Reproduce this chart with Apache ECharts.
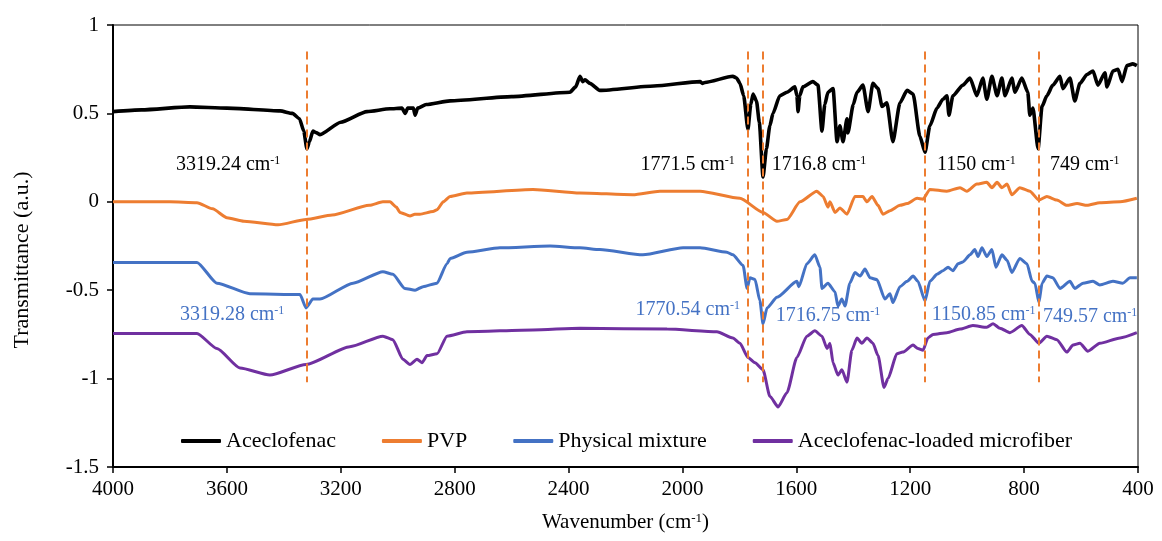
<!DOCTYPE html>
<html lang="en">
<head>
<meta charset="UTF-8">
<script src="https://cdn.jsdelivr.net/npm/echarts@6/dist/echarts.min.js"></script>
<title>FTIR</title>
<style>html,body{margin:0;padding:0;background:#fff;}</style>
</head>
<body>
<div id="chart" style="width:1162px;height:541px;"></div>
<script>
// series names
var names = ['Aceclofenac', 'PVP', 'Physical mixture', 'Aceclofenac-loaded microfiber'];

// [wavenumber, transmittance]
var aceclofenac = [[4000,0.51],[3900,0.52],[3730,0.537],[3600,0.53],[3413,0.514],[3370,0.50],[3345,0.47],[3330,0.40],[3319,0.30],[3310,0.34],[3298,0.40],[3285,0.39],[3273,0.38],[3200,0.45],[3108,0.51],[3027,0.526],[2985,0.53],[2974,0.50],[2965,0.53],[2945,0.53],[2939,0.49],[2930,0.53],[2900,0.55],[2816,0.571],[2600,0.595],[2395,0.62],[2375,0.65],[2360,0.71],[2350,0.68],[2342,0.69],[2325,0.67],[2290,0.63],[2100,0.655],[1938,0.68],[1930,0.67],[1921,0.675],[1823,0.71],[1810,0.70],[1798,0.67],[1785,0.60],[1770,0.41],[1760,0.55],[1752,0.61],[1740,0.57],[1730,0.45],[1717,0.14],[1705,0.30],[1693,0.43],[1682,0.50],[1658,0.60],[1633,0.62],[1605,0.65],[1598,0.60],[1594,0.51],[1588,0.60],[1577,0.65],[1542,0.68],[1524,0.66],[1510,0.40],[1500,0.55],[1489,0.62],[1471,0.64],[1457,0.34],[1447,0.43],[1436,0.34],[1422,0.47],[1419,0.39],[1400,0.55],[1387,0.62],[1366,0.66],[1348,0.51],[1331,0.67],[1313,0.64],[1299,0.54],[1282,0.56],[1261,0.34],[1236,0.56],[1211,0.63],[1190,0.61],[1166,0.37],[1148,0.28],[1131,0.43],[1106,0.53],[1085,0.58],[1071,0.60],[1064,0.49],[1050,0.60],[1015,0.66],[990,0.70],[966,0.60],[945,0.70],[931,0.58],[913,0.71],[895,0.60],[878,0.70],[867,0.60],[843,0.70],[832,0.62],[808,0.70],[787,0.62],[780,0.49],[769,0.53],[751,0.30],[737,0.54],[720,0.60],[699,0.66],[674,0.71],[664,0.64],[639,0.70],[622,0.57],[604,0.67],[579,0.72],[558,0.74],[541,0.66],[516,0.73],[509,0.65],[488,0.74],[470,0.75],[456,0.68],[439,0.77],[418,0.78],[404,0.77]];

var pvp = [[4000,0.0],[3800,0.0],[3705,-0.005],[3650,-0.04],[3600,-0.09],[3540,-0.11],[3420,-0.13],[3322,-0.10],[3230,-0.075],[3100,-0.02],[3052,0.0],[3027,0.0],[3005,-0.03],[2992,-0.06],[2957,-0.08],[2940,-0.07],[2922,-0.07],[2876,-0.055],[2862,-0.045],[2840,0.0],[2816,0.03],[2757,0.05],[2525,0.07],[2360,0.05],[2174,0.04],[2079,0.06],[1938,0.06],[1798,0.02],[1717,-0.06],[1668,-0.11],[1633,-0.10],[1587,0.0],[1528,0.06],[1506,0.03],[1489,-0.03],[1482,0.0],[1464,-0.06],[1447,-0.035],[1422,-0.07],[1394,0.03],[1366,0.03],[1352,0.0],[1334,0.03],[1313,-0.02],[1296,-0.07],[1271,-0.05],[1236,-0.02],[1211,-0.01],[1176,0.02],[1155,0.015],[1131,0.07],[1071,0.06],[1025,0.08],[1001,0.06],[966,0.10],[931,0.11],[913,0.08],[895,0.11],[878,0.08],[860,0.10],[843,0.04],[815,0.08],[780,0.06],[748,0.01],[720,0.03],[685,0.01],[650,-0.02],[614,-0.01],[579,-0.02],[534,-0.005],[463,0.0],[404,0.02]];

var mixture = [[4000,-0.343],[3705,-0.343],[3635,-0.46],[3519,-0.52],[3343,-0.525],[3322,-0.60],[3298,-0.55],[3273,-0.55],[3157,-0.46],[3052,-0.395],[3017,-0.41],[2975,-0.49],[2939,-0.50],[2911,-0.48],[2862,-0.46],[2827,-0.35],[2816,-0.32],[2757,-0.285],[2641,-0.26],[2465,-0.25],[2360,-0.26],[2290,-0.27],[2139,-0.30],[1998,-0.26],[1938,-0.26],[1844,-0.285],[1823,-0.30],[1787,-0.36],[1773,-0.49],[1763,-0.43],[1745,-0.44],[1728,-0.56],[1717,-0.69],[1703,-0.60],[1668,-0.54],[1598,-0.45],[1591,-0.48],[1563,-0.35],[1535,-0.30],[1517,-0.37],[1510,-0.49],[1489,-0.46],[1464,-0.51],[1454,-0.59],[1440,-0.55],[1429,-0.59],[1412,-0.46],[1394,-0.40],[1376,-0.42],[1359,-0.38],[1341,-0.43],[1317,-0.44],[1289,-0.55],[1271,-0.52],[1261,-0.57],[1236,-0.48],[1211,-0.45],[1190,-0.42],[1173,-0.45],[1148,-0.56],[1131,-0.45],[1106,-0.41],[1085,-0.39],[1067,-0.37],[1050,-0.39],[1032,-0.35],[1015,-0.34],[990,-0.30],[973,-0.27],[962,-0.31],[948,-0.26],[931,-0.31],[913,-0.27],[899,-0.37],[878,-0.30],[860,-0.33],[843,-0.40],[815,-0.32],[790,-0.35],[772,-0.45],[762,-0.46],[748,-0.57],[737,-0.46],[720,-0.42],[699,-0.43],[674,-0.49],[639,-0.45],[622,-0.49],[593,-0.46],[558,-0.45],[534,-0.47],[488,-0.45],[453,-0.46],[428,-0.43],[404,-0.43]];

var microfiber = [[4000,-0.745],[3705,-0.745],[3635,-0.83],[3554,-0.94],[3449,-0.98],[3322,-0.92],[3168,-0.82],[3052,-0.76],[3017,-0.78],[2982,-0.89],[2957,-0.92],[2932,-0.89],[2915,-0.91],[2897,-0.87],[2862,-0.86],[2827,-0.76],[2757,-0.735],[2525,-0.725],[2360,-0.715],[2054,-0.72],[1879,-0.735],[1823,-0.77],[1798,-0.80],[1770,-0.88],[1745,-0.91],[1717,-0.95],[1693,-1.10],[1664,-1.16],[1633,-1.08],[1598,-0.88],[1563,-0.76],[1535,-0.73],[1510,-0.76],[1492,-0.83],[1482,-0.80],[1471,-0.91],[1454,-0.98],[1440,-0.95],[1422,-1.02],[1405,-0.84],[1387,-0.77],[1370,-0.80],[1352,-0.77],[1331,-0.80],[1313,-0.87],[1292,-1.05],[1278,-1.0],[1247,-0.86],[1226,-0.85],[1190,-0.81],[1173,-0.83],[1155,-0.84],[1138,-0.77],[1120,-0.75],[1071,-0.74],[1025,-0.72],[980,-0.70],[931,-0.71],[909,-0.69],[885,-0.715],[850,-0.74],[808,-0.70],[780,-0.75],[748,-0.80],[720,-0.76],[685,-0.78],[650,-0.85],[628,-0.81],[604,-0.80],[576,-0.845],[534,-0.80],[463,-0.77],[404,-0.74]];

// marked peaks (dashed lines) and their labels
var peakLines = [3319.24, 1771.5, 1716.8, 1150, 749];
var aceLabels = ['3319.24', '1771.5', '1716.8', '1150', '749'];
var mixLabels = ['3319.28', '1770.54', '1716.75', '1150.85', '749.57'];

var colors = ['#000000', '#ED7D31', '#4472C4', '#7030A0'];
var serif = '"Liberation Serif", "Times New Roman", serif';

// where each label sits: [wavenumber, y, side of anchor]
var aceAnchor = [[3779,0.21,'right'],[1816,0.21,'left'],[1686,0.21,'right'],[1106,0.21,'right'],[709,0.21,'right']];
var mixAnchor = [[3765,-0.64,'right'],[1798,-0.61,'left'],[1672,-0.645,'right'],[1124,-0.64,'right'],[734,-0.65,'right']];

function labelPoints(texts, anchor, color) {
	return texts.map(function (t, i) {
		return {
			value: [anchor[i][0], anchor[i][1]],
			label: {
				show: true,
				position: anchor[i][2],
				distance: 0,
				formatter: '{n|' + t + ' cm}{s|-1}',
				rich: {
					n: {fontFamily: serif, fontSize: 20, color: color},
					s: {fontFamily: serif, fontSize: 12, color: color, verticalAlign: 'top'}
				}
			}
		};
	});
}

var chart = echarts.init(document.getElementById('chart'));

var lineData = [aceclofenac, pvp, mixture, microfiber];
var series = lineData.map(function (d, i) {
	return {
		name: names[i],
		type: 'line',
		data: d,
		showSymbol: false,
		smooth: 0.2,
		smoothMonotone: 'x',
		z: 4 - i,
		lineStyle: {color: colors[i], width: i === 0 ? 3.6 : 3},
		itemStyle: {color: colors[i]}
	};
});

// dashed peak markers
series[0].markLine = {
	silent: true,
	symbol: 'none',
	label: {show: false},
	lineStyle: {color: '#ED7D31', type: [8, 5], width: 2},
	data: peakLines.map(function (p) {
		return [{coord: [p, 0.85]}, {coord: [p, -1.02]}];
	})
};

series.push({
	type: 'scatter',
	symbolSize: 0,
	silent: true,
	z: 6,
	itemStyle: {opacity: 1},
	data: labelPoints(aceLabels, aceAnchor, '#000')
});
series.push({
	type: 'scatter',
	symbolSize: 0,
	silent: true,
	z: 6,
	itemStyle: {opacity: 1},
	data: labelPoints(mixLabels, mixAnchor, '#4472C4')
});

var option = {
	animation: false,
	backgroundColor: '#fff',
	grid: {
		left: 113, right: 24, top: 25, bottom: 74,
		show: true, borderColor: '#000', borderWidth: 1
	},
	legend: {
		data: names,
		left: 176,
		top: 425,
		icon: 'roundRect',
		itemWidth: 40,
		itemHeight: 4,
		itemGap: 46,
		textStyle: {fontFamily: serif, fontSize: 22, color: '#000'}
	},
	xAxis: {
		type: 'value',
		inverse: true,
		min: 400,
		max: 4000,
		interval: 400,
		name: '{n|Wavenumber (cm}{s|-1}{n|)}',
		nameLocation: 'middle',
		nameGap: 45,
		nameTextStyle: {
			rich: {
				n: {fontFamily: serif, fontSize: 21, color: '#000'},
				s: {fontFamily: serif, fontSize: 13, color: '#000', verticalAlign: 'top'}
			}
		},
		axisLine: {onZero: false, lineStyle: {color: '#000', width: 2}},
		axisTick: {length: 6, lineStyle: {color: '#000', width: 1.5}},
		axisLabel: {
			fontFamily: serif, fontSize: 21, color: '#000', margin: 12,
			formatter: function (v) { return String(v); }
		},
		splitLine: {show: false}
	},
	yAxis: {
		type: 'value',
		min: -1.5,
		max: 1,
		interval: 0.5,
		name: 'Transmittance (a.u.)',
		nameLocation: 'middle',
		nameGap: 80,
		nameTextStyle: {fontFamily: serif, fontSize: 22, color: '#000', padding: [0, 28, 0, 0]},
		axisLine: {show: true, lineStyle: {color: '#000', width: 2}},
		axisTick: {show: true, length: 6, lineStyle: {color: '#000', width: 1.5}},
		axisLabel: {fontFamily: serif, fontSize: 21, color: '#000', margin: 14},
		splitLine: {show: false}
	},
	series: series
};

chart.setOption(option);
</script>
</body>
</html>
